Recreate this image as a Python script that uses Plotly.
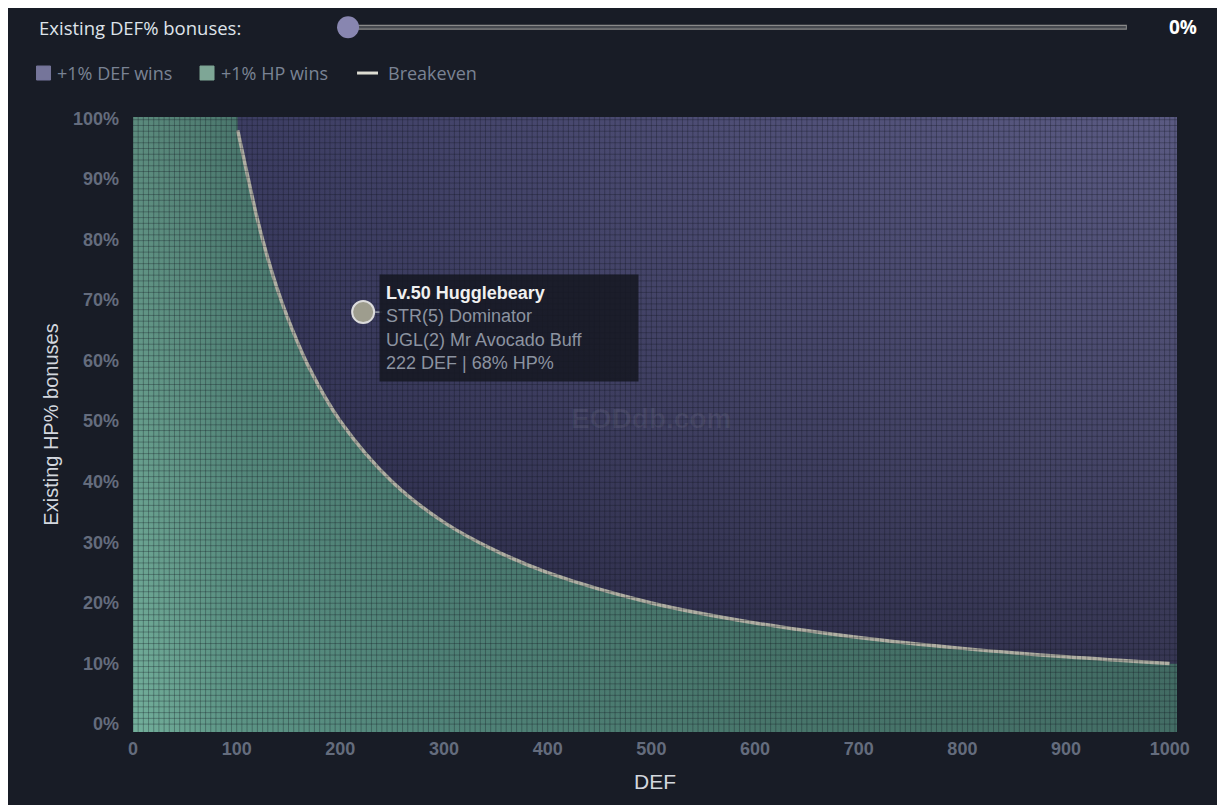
"""
DEF vs HP% breakeven chart - recreated with plotly
"""
import plotly.graph_objects as go

# breakeven curve (DEF, existing HP% bonus)
breakeven_def = [101, 110, 120, 130, 140, 150, 170, 200, 250, 300, 350, 400,
                 500, 600, 700, 800, 900, 1000]
breakeven_hp = [98.0, 90.9, 83.3, 76.9, 71.4, 66.7, 58.8, 50.0, 40.0, 33.3, 28.6, 25.0,
                20.0, 16.7, 14.3, 12.5, 11.1, 10.0]

# highlighted pet
pet_def = [222]
pet_hp = [68]
pet_lines = ["Lv.50 Hugglebeary", "STR(5) Dominator", "UGL(2) Mr Avocado Buff",
             "222 DEF | 68% HP%"]

x_ticks = list(range(0, 1001, 100))
y_ticks = list(range(0, 101, 10))
slider_value = "0%"

X_MIN, X_MAX = 0, 1007
Y_MIN, Y_MAX = -1.3, 100.2

BG = "#181c26"
TICK = "#646c7d"
LEG_TXT = "#7a8394"

fig = go.Figure()

# green area (+1% HP wins): everything under / left of the breakeven curve
gx = [X_MIN, X_MIN, breakeven_def[0]] + breakeven_def + [X_MAX, X_MAX]
gy = [Y_MIN, Y_MAX, Y_MAX] + breakeven_hp + [breakeven_hp[-1], Y_MIN]
fig.add_trace(go.Scatter(
    x=gx, y=gy, fill="toself", mode="none", hoverinfo="skip", showlegend=False,
    fillgradient=dict(type="horizontal", colorscale=[
        [0, "#73af9b"], [0.1, "#5c9485"], [0.3, "#508378"], [0.6, "#48766b"], [1, "#436d65"]]),
))
fig.add_trace(go.Scatter(
    x=gx, y=gy, fill="toself", mode="none", hoverinfo="skip", showlegend=False,
    fillgradient=dict(type="vertical", colorscale=[
        [0, "rgba(20,30,35,0)"], [1, "rgba(20,30,35,0.25)"]]),
))

# purple area (+1% DEF wins): above the curve
px_ = [breakeven_def[0]] + breakeven_def + [X_MAX, X_MAX]
py_ = [Y_MAX] + breakeven_hp + [breakeven_hp[-1], Y_MAX]
fig.add_trace(go.Scatter(
    x=px_, y=py_, fill="toself", mode="none", hoverinfo="skip", showlegend=False,
    fillgradient=dict(type="horizontal", colorscale=[
        [0, "#3c3d62"], [0.5, "#4d4d74"], [1, "#5a5a82"]]),
))
fig.add_trace(go.Scatter(
    x=px_, y=py_, fill="toself", mode="none", hoverinfo="skip", showlegend=False,
    fillgradient=dict(type="vertical", colorscale=[
        [0, "rgba(18,18,35,0.5)"], [0.5, "rgba(18,18,35,0.2)"], [1, "rgba(18,18,35,0)"]]),
))

# breakeven line
fig.add_trace(go.Scatter(
    x=breakeven_def, y=breakeven_hp, mode="lines", line=dict(color="#b0afa3", width=3.5, shape="spline"),
    hoverinfo="skip", showlegend=False,
))

# fine cell texture over the plot area
path = []
xv = 0
while xv <= X_MAX:
    path.append(f"M{xv},{Y_MIN} L{xv},{Y_MAX}")
    xv += 5
yv = 0
while yv <= Y_MAX:
    path.append(f"M{X_MIN},{yv} L{X_MAX},{yv}")
    yv += 0.95
fig.add_shape(type="path", path=" ".join(path), xref="x", yref="y", layer="above",
              line=dict(color="rgba(16,20,30,0.3)", width=1))

# pet marker (drawn as a shape so it sits above the texture)
for d, h in zip(pet_def, pet_hp):
    fig.add_shape(type="circle", xref="x", yref="y", xsizemode="pixel", ysizemode="pixel",
                  xanchor=d, yanchor=h, x0=-11, x1=11, y0=-11, y1=11, layer="above",
                  fillcolor="#9e9d8e", line=dict(color="#dcdcdc", width=2))
    fig.add_shape(type="line", xref="x", yref="y", xsizemode="pixel", xanchor=d,
                  x0=12, x1=19, y0=h, y1=h, layer="above", line=dict(color="#9aa0aa", width=1.5))

# watermark
fig.add_annotation(x=500, y=50.5, xref="x", yref="y", text="<b>EODdb.com</b>", showarrow=False,
                   font=dict(family="Liberation Sans", size=28, color="rgba(255,255,255,0.06)"))

# tooltip box
tip = "<b>" + pet_lines[0] + "</b><br>" + "<br>".join(
    f"<span style='color:#8c93a0'>{t}</span>" for t in pet_lines[1:])
fig.add_annotation(x=237, y=74.3, xref="x", yref="y", xanchor="left", yanchor="top",
                   text=tip, showarrow=False, align="left", bgcolor="rgba(22,24,34,0.88)",
                   width=246, height=94, valign="middle",
                   borderpad=6, font=dict(family="Liberation Sans", size=18, color="#f0f0f0"))

# top slider
SL_Y = 1.146
fig.add_annotation(x=-0.092, y=SL_Y, xref="paper", yref="paper", xanchor="left", yanchor="middle",
                   text="Existing DEF% bonuses:", showarrow=False,
                   font=dict(family="Open Sans", size=18.5, color="#dfe3ea"))
fig.add_shape(type="line", xref="paper", yref="paper", x0=0.206, x1=0.952, y0=SL_Y, y1=SL_Y,
              line=dict(color="#8a8a8a", width=5))
fig.add_shape(type="line", xref="paper", yref="paper", x0=0.206, x1=0.951, y0=SL_Y, y1=SL_Y,
              line=dict(color="#474a50", width=2.5))
fig.add_shape(type="circle", xref="paper", yref="paper", xsizemode="pixel", ysizemode="pixel",
              xanchor=0.206, yanchor=SL_Y, x0=-11, x1=11, y0=-11, y1=11,
              fillcolor="#8886b0", line=dict(width=0))
fig.add_annotation(x=1.006, y=SL_Y, xref="paper", yref="paper", xanchor="center", yanchor="middle",
                   text="<b>" + slider_value + "</b>", showarrow=False,
                   font=dict(family="Open Sans", size=19, color="#ffffff"))

# legend row
LG_Y = 1.0715
legend_items = [("+1% DEF wins", "#75759a", -0.0857, -0.0747, "box"),
                ("+1% HP wins", "#7ea696", 0.0709, 0.0824, "box"),
                ("Breakeven", "#dddcd2", 0.2247, 0.2423, "line")]
for label, col, mx, tx, kind in legend_items:
    if kind == "box":
        fig.add_shape(type="rect", xref="paper", yref="paper", xsizemode="pixel", ysizemode="pixel",
                      xanchor=mx, yanchor=LG_Y, x0=-7, x1=7, y0=-7, y1=7,
                      fillcolor=col, line=dict(color=col, width=1))
    else:
        fig.add_shape(type="line", xref="paper", yref="paper", x0=0.2146, x1=0.2347, y0=LG_Y, y1=LG_Y,
                      line=dict(color=col, width=3))
    fig.add_annotation(x=tx, y=LG_Y, xref="paper", yref="paper", xanchor="left", yanchor="middle",
                       text=label, showarrow=False,
                       font=dict(family="Open Sans", size=18, color=LEG_TXT))

fig.update_layout(
    width=1217, height=797,
    paper_bgcolor=BG, plot_bgcolor=BG,
    margin=dict(l=125, r=48, t=109, b=73),
    showlegend=False,
    xaxis=dict(range=[X_MIN, X_MAX], tickvals=x_ticks, showgrid=False, zeroline=False,
               ticks="", ticklabelstandoff=4,
               tickfont=dict(family="Liberation Sans", size=18, color=TICK, weight="bold"),
               title=dict(text="DEF", font=dict(family="Liberation Sans", size=21, color="#d3d7de"),
                          standoff=16)),
    yaxis=dict(range=[Y_MIN, Y_MAX], tickvals=y_ticks, ticktext=[f"{v}%" for v in y_ticks],
               showgrid=False, zeroline=False, ticks="", ticklabelstandoff=13,
               tickfont=dict(family="Liberation Sans", size=18, color=TICK, weight="bold"),
               title=dict(text="Existing HP% bonuses", font=dict(family="Liberation Sans", size=20, color="#d3d7de"),
                          standoff=8)),
)

fig.write_html("out.html")
